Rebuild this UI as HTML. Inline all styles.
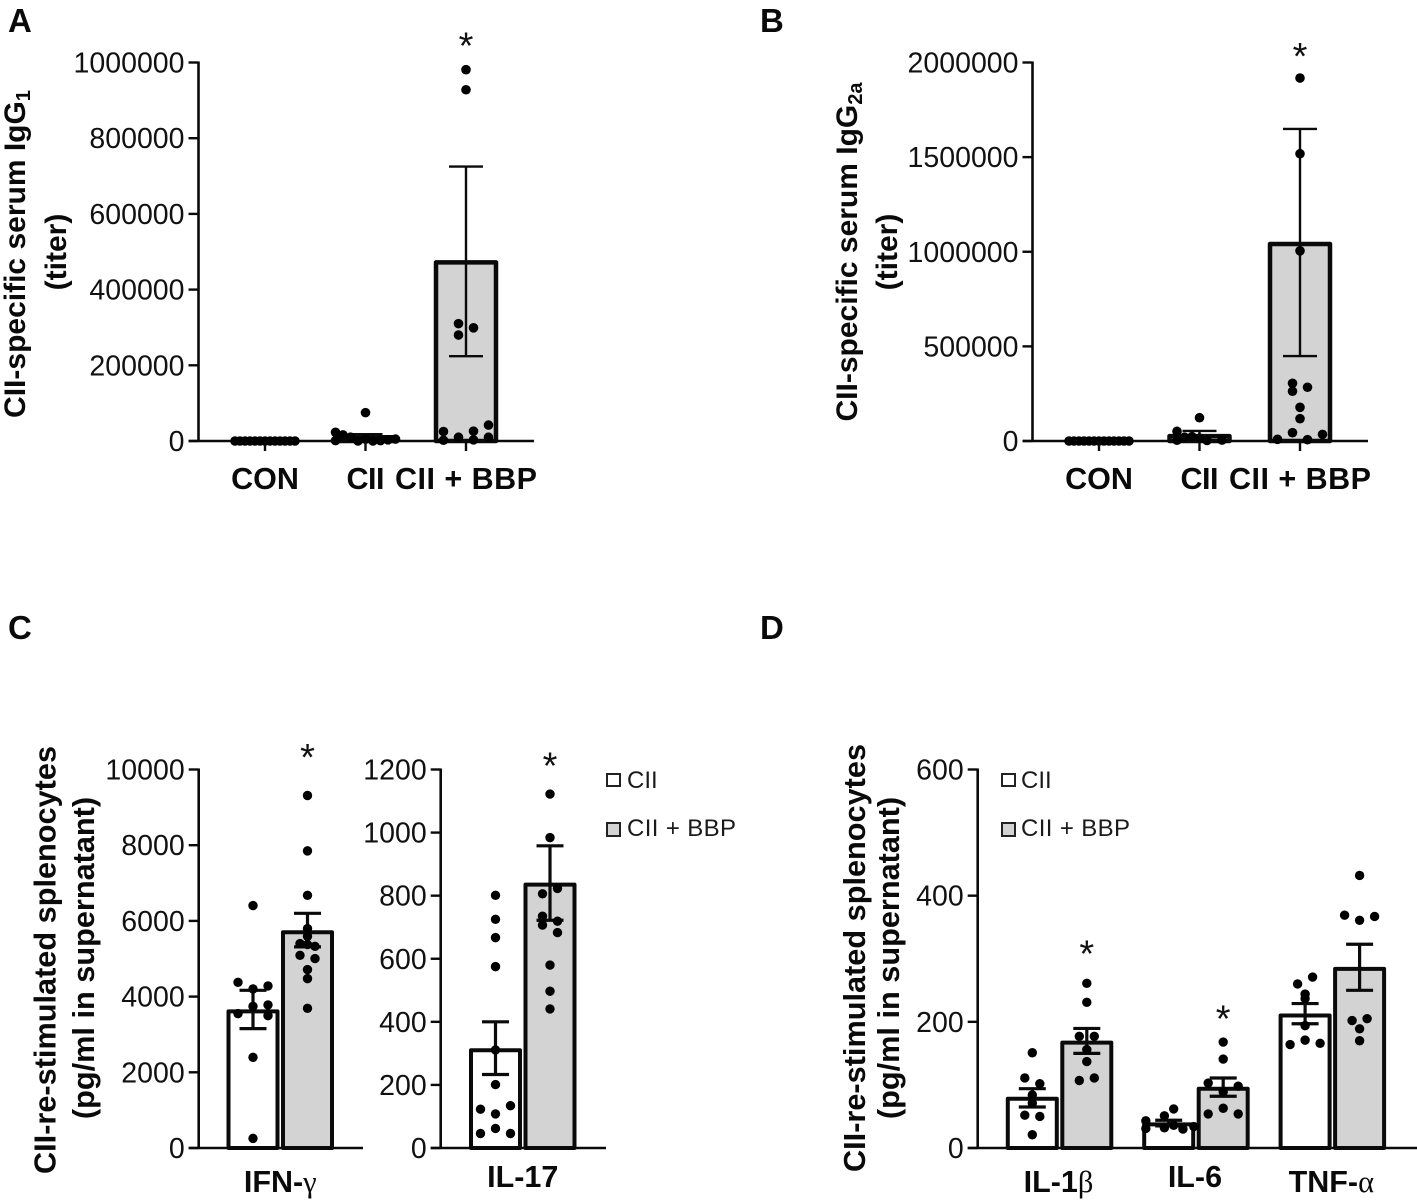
<!DOCTYPE html>
<html lang="en">
<head>
<meta charset="utf-8">
<title>CII-specific titers and cytokines</title>
<style>
html,body{margin:0;padding:0;background:#fff;}
svg{display:block;font-family:"Liberation Sans",sans-serif;}
.panel-letter{font-weight:bold;font-size:33px;fill:#0a0a0a;}
.y-title{font-weight:bold;font-size:30px;fill:#0a0a0a;text-anchor:middle;}
.y-title-wide{font-size:30.7px;}
.legend-text{font-size:24px;fill:#1a1a1a;}
.tick-label{font-size:28.5px;fill:#111;text-anchor:end;}
.x-label{font-weight:bold;font-size:30.5px;fill:#0a0a0a;text-anchor:middle;}
.sig-star{font-size:38px;fill:#111;text-anchor:middle;}
</style>
</head>
<body>
<svg id="figure" xmlns="http://www.w3.org/2000/svg" width="1417" height="1200" viewBox="0 0 1417 1200">
  <rect x="0" y="0" width="1417" height="1200" fill="#fff"/>
  <text class="panel-letter" x="8" y="32">A</text>
  <text class="panel-letter" x="760" y="32">B</text>
  <text class="panel-letter" x="8" y="639">C</text>
  <text class="panel-letter" x="760" y="639">D</text>

  <text class="y-title" transform="translate(25 254) rotate(-90)">CII-specific serum IgG<tspan font-size="20" dy="5">1</tspan></text>
  <text class="y-title" font-size="31" transform="translate(66 252) rotate(-90)">(titer)</text>
  <text class="y-title" transform="translate(857 252) rotate(-90)">CII-specific serum IgG<tspan font-size="20" dy="5">2a</tspan></text>
  <text class="y-title" font-size="31" transform="translate(897 252) rotate(-90)">(titer)</text>
  <text class="y-title y-title-wide" transform="translate(55.5 960) rotate(-90)">CII-re-stimulated splenocytes</text>
  <text class="y-title y-title-wide" transform="translate(94 958) rotate(-90)">(pg/ml in supernatant)</text>
  <text class="y-title y-title-wide" transform="translate(865 958) rotate(-90)">CII-re-stimulated splenocytes</text>
  <text class="y-title y-title-wide" transform="translate(899 958) rotate(-90)">(pg/ml in supernatant)</text>

  <g>
    <rect x="607" y="774" width="13" height="12" fill="#fff" stroke="#222" stroke-width="2"/>
    <text class="legend-text" x="627" y="788">CII</text>
    <rect x="607" y="823" width="13" height="13" fill="#d3d3d3" stroke="#222" stroke-width="2"/>
    <text class="legend-text" x="627" y="836" textLength="109">CII + BBP</text>
  </g>
  <g>
    <rect x="1002" y="774" width="13" height="12" fill="#fff" stroke="#222" stroke-width="2"/>
    <text class="legend-text" x="1021" y="788">CII</text>
    <rect x="1002" y="823" width="13" height="13" fill="#d3d3d3" stroke="#222" stroke-width="2"/>
    <text class="legend-text" x="1021" y="836" textLength="109">CII + BBP</text>
  </g>
</svg>
<script>
// Panel A — IgG1 titer
const panelAGroups = ['CON', 'CII', 'CII + BBP'];
const panelATicks = [0, 200000, 400000, 600000, 800000, 1000000];
const panelAMeans = [0, 10000, 472000];
const panelAErrHigh = [0, 18000, 725000];
const panelAErrLow = [0, 2000, 224000];
const panelASig = [null, null, 1055000];
const panelADots = [
  [0, 0, 0, 0, 0, 0, 0, 0, 0, 0, 0, 0, 0],
  [75000, 23000, 1000, 16000, 10000, 0, 5000, 0, 1000, 3000, 5000],
  [981000, 928000, 310000, 299000, 280000, 25000, 26000, 42000, 10000, 2000, 3000, 10000]
];
const panelALanes = [
  [-8, -6.67, -5.33, -4, -2.67, -1.33, 0, 1.33, 2.67, 4, 5.33, 6.67, 8],
  [0, -8, -8, -6, -4, -2, 0, 2, 4, 6, 8],
  [0, 0, -2, 2, -2, -6, 2, 6, -2, -6, 2, 6]
];

// Panel B — IgG2a titer
const panelBGroups = ['CON', 'CII', 'CII + BBP'];
const panelBTicks = [0, 500000, 1000000, 1500000, 2000000];
const panelBMeans = [0, 26000, 1041000];
const panelBErrHigh = [0, 53000, 1649000];
const panelBErrLow = [0, 0, 449000];
const panelBSig = [null, null, 2055000];
const panelBDots = [
  [0, 0, 0, 0, 0, 0, 0, 0, 0, 0, 0, 0, 0],
  [123000, 51000, 4000, 23000, 3000, 5000, 15000, 20000],
  [1918000, 1518000, 1005000, 305000, 263000, 284000, 178000, 118000, 44000, 35000, 9000, 7000]
];
const panelBLanes = [
  [-8, -6.67, -5.33, -4, -2.67, -1.33, 0, 1.33, 2.67, 4, 5.33, 6.67, 8],
  [0, -6, -6, -2, 2, 6, 0, -4],
  [0, 0, 0, -2, -2, 2, 0, 0, -2, 6, -6, 2]
];

// Panel C left — IFN-gamma
const panelC1Groups = ['IFN-γ'];
const panelC1Ticks = [0, 2000, 4000, 6000, 8000, 10000];
const panelC1Means = [3610, 5700];
const panelC1ErrHigh = [4166, 6200];
const panelC1ErrLow = [3154, 5313];
const panelC1Sig = [null, 10436];
const panelC1Dots = [
  [6405, 4378, 4282, 4203, 3780, 3743, 3550, 3497, 2396, 254],
  [9313, 7850, 6677, 5797, 5594, 5400, 5329, 5374, 5091, 5004, 4713, 4475, 3690]
];
const panelC1Lanes = [
  [0, -4, 4, 0, 4, 0, -4, 4, 0, 0],
  [0, 0, 0, 0, 0, -2, 2, 0, -2, 2, 0, 0, 0]
];

// Panel C right — IL-17
const panelC2Groups = ['IL-17'];
const panelC2Ticks = [0, 200, 400, 600, 800, 1000, 1200];
const panelC2Means = [310, 835];
const panelC2ErrHigh = [400, 958];
const panelC2ErrLow = [233, 722];
const panelC2Sig = [null, 1225];
const panelC2Dots = [
  [801, 725, 667, 575, 311, 201, 123, 134, 108, 62, 46, 46],
  [1122, 984, 823, 806, 735, 707, 719, 683, 580, 497, 441]
];
const panelC2Lanes = [
  [0, 0, 0, 0, 0, 0, -4, 4, 0, 0, -4, 4],
  [0, 0, 2, -2, -2, -2, 2, 2, 0, 0, 0]
];

// Panel D — IL-1beta, IL-6, TNF-alpha
const panelDGroups = ['IL-1β', 'IL-6', 'TNF-α'];
const panelDTicks = [0, 200, 400, 600];
const panelDMeans = [78, 167, 37.5, 94, 210, 284];
const panelDErrHigh = [94, 189.5, 44, 111, 229, 323];
const panelDErrLow = [65, 150, 35, 82, 197, 250];
const panelDSig = [null, 315, null, 212, null, null];
const panelDDots = [
  [151, 111, 102, 84, 71, 52, 50, 21],
  [261, 231, 177, 177, 156, 137, 107, 111],
  [62, 51, 43, 36, 32, 30, 31, 34],
  [168, 141, 103, 98, 89, 63, 54, 54],
  [271, 260, 244, 237, 194, 171, 164, 166],
  [432, 369, 367, 361, 205, 202, 189, 170]
];
const panelDLanes = [
  [0, -2, 2, 0, 0, -2, 2, 0],
  [0, 0, -2, 2, 0, 0, -2, 2],
  [1.33, -1.15, -6.1, 1.33, -1.15, 3.8, -6.1, 6.7],
  [0, 0, -4, 4, 0, 0, -4, 4],
  [2, -2, 0, 0, 0, 0, -4, 4],
  [0, -4, 4, 0, 2, -2, 0, 0]
];

const LANE_WIDTH = 3.75;
const SVG_NS = 'http://www.w3.org/2000/svg';
const figure = document.getElementById('figure');

function make(parent, tag, attrs) {
  const node = document.createElementNS(SVG_NS, tag);
  for (const key in attrs) node.setAttribute(key, attrs[key]);
  parent.appendChild(node);
  return node;
}

function drawPanel(cfg) {
  const root = make(figure, 'g', {});
  
  

  const yScale = v => cfg.yBase - (v / cfg.yMax) * (cfg.yBase - cfg.yTop);
  const perGroup = cfg.seriesPerGroup;
  const xScale = i => cfg.xStart + Math.floor(i / perGroup) * cfg.groupStep + (i % perGroup) * cfg.seriesStep;

  // bars
  cfg.means.forEach((mean, i) => {
    const bar = make(root, 'rect', {
      x: xScale(i) - cfg.barWidth / 2,
      y: yScale(mean),
      width: cfg.barWidth,
      height: Math.max(0, cfg.yBase - yScale(mean)),
      fill: cfg.isTreated(i) ? '#d3d3d3' : '#ffffff',
      stroke: '#0a0a0a',
      'stroke-width': cfg.barStroke,
      'stroke-linejoin': 'round'
    });
    
    
  });

  // error bars
  cfg.means.forEach((mean, i) => {
    const cx = xScale(i);
    const yHigh = yScale(cfg.errHigh[i]);
    const yLow = yScale(cfg.errLow[i]);
    const path = make(root, 'path', {
      d: 'M' + (cx - cfg.capHalf) + ' ' + yHigh + 'H' + (cx + cfg.capHalf) +
         'M' + cx + ' ' + yHigh + 'V' + yLow +
         'M' + (cx - cfg.capHalf) + ' ' + yLow + 'H' + (cx + cfg.capHalf),
      fill: 'none',
      stroke: '#0a0a0a',
      'stroke-width': cfg.errStroke
    });
    
    
  });

  // axes
  const yAxis = make(root, 'line', {x1: cfg.axisX, x2: cfg.axisX, y1: cfg.yTop - 1, y2: cfg.yBase + 1, stroke: '#0a0a0a', 'stroke-width': 2.6});
  
  
  const xAxis = make(root, 'line', {x1: cfg.axisX - 10, x2: cfg.axisEnd, y1: cfg.yBase, y2: cfg.yBase, stroke: '#0a0a0a', 'stroke-width': 2.6});
  
  

  cfg.ticks.forEach(tick => {
    const y = yScale(tick);
    const mark = make(root, 'line', {x1: cfg.axisX - 10, x2: cfg.axisX, y1: y, y2: y, stroke: '#0a0a0a', 'stroke-width': 2.4});
    
    
    const label = make(root, 'text', {class: 'tick-label', x: cfg.axisX - 14, y: y + 10});
    
    
    label.textContent = String(tick);
  });

  // dots
  cfg.dots.forEach((values, i) => {
    values.forEach((v, k) => {
      const dot = make(root, 'circle', {
        cx: xScale(i) + cfg.lanes[i][k] * LANE_WIDTH,
        cy: yScale(v),
        r: cfg.dotRadius,
        fill: '#000'
      });
      
      
    });
  });

  // significance stars
  cfg.sig.forEach((v, i) => {
    if (v === null) return;
    const star = make(root, 'text', {class: 'sig-star', x: xScale(i), y: yScale(v) + 17});
    
    
    star.textContent = '*';
  });

  // x tick marks and labels
  cfg.groups.forEach((name, g) => {
    const first = g * perGroup;
    const cx = xScale(first) + (perGroup - 1) * cfg.seriesStep / 2 + cfg.labelShift;
    if (cfg.xTicks) {
      const mark = make(root, 'line', {x1: cx, x2: cx, y1: cfg.yBase, y2: cfg.yBase + 10, stroke: '#0a0a0a', 'stroke-width': 2.4});
      
      
    }
    const label = make(root, 'text', {class: 'x-label', x: cx, y: cfg.labelBaseline(g)});
    
    
    const greek = name.match(/[βαγ]$/);
    if (greek) {
      label.appendChild(document.createTextNode(name.slice(0, -1)));
      const symbol = make(label, 'tspan', {'font-family': '"Liberation Serif", serif', 'font-weight': 'normal'});
      symbol.textContent = greek[0];
    } else {
      label.textContent = name;
    }
    if (cfg.labelLength && cfg.labelLength(g)) label.setAttribute('textLength', cfg.labelLength(g));
  });
}

const titerStyle = {
  seriesPerGroup: 1, seriesStep: 0, groupStep: 100.5, barWidth: 60, barStroke: 4.5,
  capHalf: 17, errStroke: 2.4, dotRadius: 4.8, xTicks: true, labelShift: 0,
  isTreated: i => i === 2, labelBaseline: () => 489,
  labelLength: g => (g === 2 ? 142 : g === 1 ? 38 : 0),
  yTop: 62.5, yBase: 441
};
const cytokineStyle = {
  barWidth: 49, barStroke: 4, capHalf: 13.5, errStroke: 3.2, dotRadius: 4.7,
  xTicks: false, seriesPerGroup: 2, seriesStep: 54.5, isTreated: i => i % 2 === 1,
  yTop: 769.5, yBase: 1148
};

drawPanel(Object.assign({}, titerStyle, {
  name: 'panel-a-chart', axisX: 198.5, axisEnd: 534, xStart: 265, yMax: 1000000,
  groups: panelAGroups, ticks: panelATicks, means: panelAMeans, errHigh: panelAErrHigh,
  errLow: panelAErrLow, sig: panelASig, dots: panelADots, lanes: panelALanes
}));
drawPanel(Object.assign({}, titerStyle, {
  name: 'panel-b-chart', axisX: 1032.5, axisEnd: 1368, xStart: 1099, yMax: 2000000,
  groups: panelBGroups, ticks: panelBTicks, means: panelBMeans, errHigh: panelBErrHigh,
  errLow: panelBErrLow, sig: panelBSig, dots: panelBDots, lanes: panelBLanes
}));
drawPanel(Object.assign({}, cytokineStyle, {
  name: 'panel-c-ifn-gamma-chart', axisX: 198.7, axisEnd: 363, xStart: 253, groupStep: 0, yMax: 10000,
  labelShift: 0, labelBaseline: () => 1192,
  groups: panelC1Groups, ticks: panelC1Ticks, means: panelC1Means, errHigh: panelC1ErrHigh,
  errLow: panelC1ErrLow, sig: panelC1Sig, dots: panelC1Dots, lanes: panelC1Lanes
}));
drawPanel(Object.assign({}, cytokineStyle, {
  name: 'panel-c-il-17-chart', axisX: 440.7, axisEnd: 606, xStart: 495.5, groupStep: 0, yMax: 1200,
  labelShift: 0, labelBaseline: () => 1187,
  groups: panelC2Groups, ticks: panelC2Ticks, means: panelC2Means, errHigh: panelC2ErrHigh,
  errLow: panelC2ErrLow, sig: panelC2Sig, dots: panelC2Dots, lanes: panelC2Lanes
}));
drawPanel(Object.assign({}, cytokineStyle, {
  name: 'panel-d-chart', axisX: 977.7, axisEnd: 1417, xStart: 1032.3, groupStep: 136.4, yMax: 600,
  labelShift: -1, labelBaseline: g => (g === 1 ? 1187 : 1192),
  groups: panelDGroups, ticks: panelDTicks, means: panelDMeans, errHigh: panelDErrHigh,
  errLow: panelDErrLow, sig: panelDSig, dots: panelDDots, lanes: panelDLanes
}));
</script>
</body>
</html>
